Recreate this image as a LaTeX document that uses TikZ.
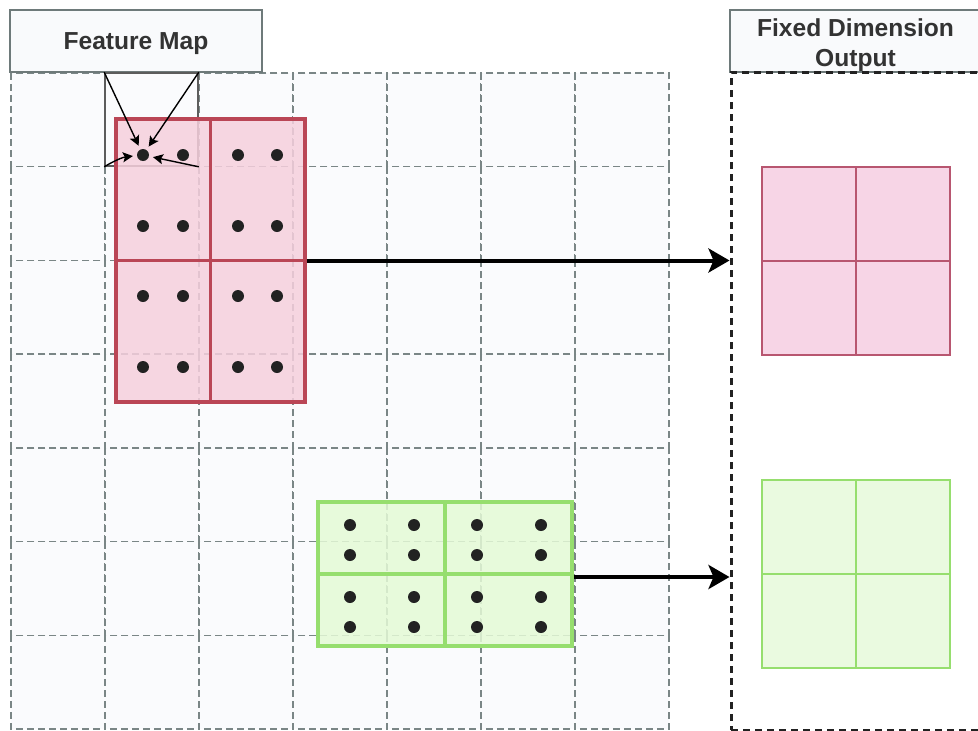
\documentclass[tikz,border=0pt]{standalone}
\usepackage{fontspec}
\setmainfont{Liberation Sans}
\usetikzlibrary{arrows.meta}

\definecolor{gridline}{RGB}{122,134,134}
\definecolor{gridfill}{RGB}{250,251,253}
\definecolor{labelline}{RGB}{110,122,122}
\definecolor{labelfill}{RGB}{249,250,252}
\definecolor{textgray}{RGB}{51,51,51}
\definecolor{redfill}{RGB}{246,208,221}
\definecolor{redline}{RGB}{186,70,86}
\definecolor{outredfill}{RGB}{247,213,230}
\definecolor{outredline}{RGB}{184,86,112}
\definecolor{greenfill}{RGB}{228,250,214}
\definecolor{greenline}{RGB}{150,222,110}
\definecolor{outgreenfill}{RGB}{234,250,224}
\definecolor{dotcol}{RGB}{34,34,34}

\tikzset{
  gridcell/.style={draw=gridline, fill=gridfill, line width=1.4pt, dash pattern=on 7pt off 4pt},
  labelbox/.style={draw=labelline, fill=labelfill, line width=1.5pt, inner sep=0pt},
  labeltext/.style={font=\fontsize{24.6}{30}\selectfont\bfseries, text=textgray, align=center, inner sep=0pt},
  focusbox/.style={draw=textgray!80, line width=1.6pt, inner sep=0pt, minimum width=93pt, minimum height=93pt},
  container/.style={draw=dotcol, line width=3pt, dash pattern=on 7pt off 5pt, inner sep=0pt},
  poolred/.style={draw=redline, fill=redfill, fill opacity=0.85, line width=3.2pt, inner sep=0pt},
  poolgreen/.style={draw=greenline, fill=greenfill, fill opacity=0.85, line width=3.2pt, inner sep=0pt},
  outred/.style={draw=outredline, fill=outredfill, line width=2pt, inner sep=0pt, minimum width=188pt, minimum height=188pt},
  outgreen/.style={draw=greenline, fill=outgreenfill, line width=2pt, inner sep=0pt, minimum width=188pt, minimum height=188pt},
  sample/.style={circle, fill=dotcol, inner sep=0pt, minimum size=12pt},
  flow/.style={draw=black, line width=4pt, -{Stealth[length=21pt, width=24pt, inset=5pt]}},
  pointer/.style={draw=black, line width=1.4pt, -{Stealth[length=10pt, width=10pt, inset=2pt]}, shorten >=4pt},
}

\begin{document}
\begin{tikzpicture}[x=1pt, y=-1pt]
\useasboundingbox (0,0) rectangle (978,731);

% input feature map: 7 x 7 dashed cells
\foreach \i in {0,...,6}
  \foreach \j in {0,...,6}
    \draw[gridcell] (11+94*\i, 73+93.7*\j) rectangle ++(94,93.7);

% titles
\node[labelbox, minimum width=252pt, minimum height=62pt] (fmlabel) at (136,41) {};
\node[labeltext] (fmtext) at ([yshift=-3pt]fmlabel.center) {Feature Map};
\node[labelbox, minimum width=251pt, minimum height=62pt] (outlabel) at (855.5,41) {};
\node[labeltext] (outtext) at ([yshift=-4pt]outlabel.center) {Fixed Dimension\\Output};

% output container
\node[container, minimum width=250pt, minimum height=658pt] (outbox) at (856,401) {};

% single feature-map cell whose corners point to a sample
\node[focusbox] (focus) at (151.5,119.5) {};

% red pooling region (2 x 2 bins)
\node[poolred, minimum width=189pt, minimum height=283pt] (redregion) at (210.5,260.5) {};
\draw[redline, line width=3.2pt] (redregion.north) -- (redregion.south);
\draw[redline, line width=3.2pt] (redregion.west) -- (redregion.east);

% green pooling region (2 x 2 bins)
\node[poolgreen, minimum width=254pt, minimum height=144pt] (greenregion) at (445,574) {};
\draw[greenline, line width=3.2pt] (greenregion.north) -- (greenregion.south);
\draw[greenline, line width=3.2pt] (greenregion.west) -- (greenregion.east);

% sampling points in the red region
\foreach \c/\x in {1/143,2/183,3/238,4/277}
  \foreach \r/\y in {1/155,2/226,3/296,4/367}
    \node[sample] (r\r\c) at (\x,\y) {};

% sampling points in the green region
\foreach \c/\x in {1/350,2/414,3/477,4/541}
  \foreach \r/\y in {1/525,2/555,3/597,4/627}
    \node[sample] (g\r\c) at (\x,\y) {};

% corner pointers (bilinear interpolation)
\draw[pointer] (focus.north west) -- (r11);
\draw[pointer] (focus.north east) -- (r11);
\draw[pointer] (focus.south west) to[bend left=12] (r11);
\draw[pointer] (focus.south east) -- (r11);

% pooled outputs
\node[outred] (outr) at (856,261) {};
\draw[outredline, line width=2pt] (outr.north) -- (outr.south);
\draw[outredline, line width=2pt] (outr.west) -- (outr.east);

\node[outgreen] (outg) at (856,574) {};
\draw[greenline, line width=2pt] (outg.north) -- (outg.south);
\draw[greenline, line width=2pt] (outg.west) -- (outg.east);

% flows into the output
\coordinate (gstart) at ([yshift=-3pt]greenregion.east);
\draw[flow] (redregion.east) -- (outbox.west |- redregion.east);
\draw[flow] (gstart) -- (outbox.west |- gstart);
\end{tikzpicture}
\end{document}
